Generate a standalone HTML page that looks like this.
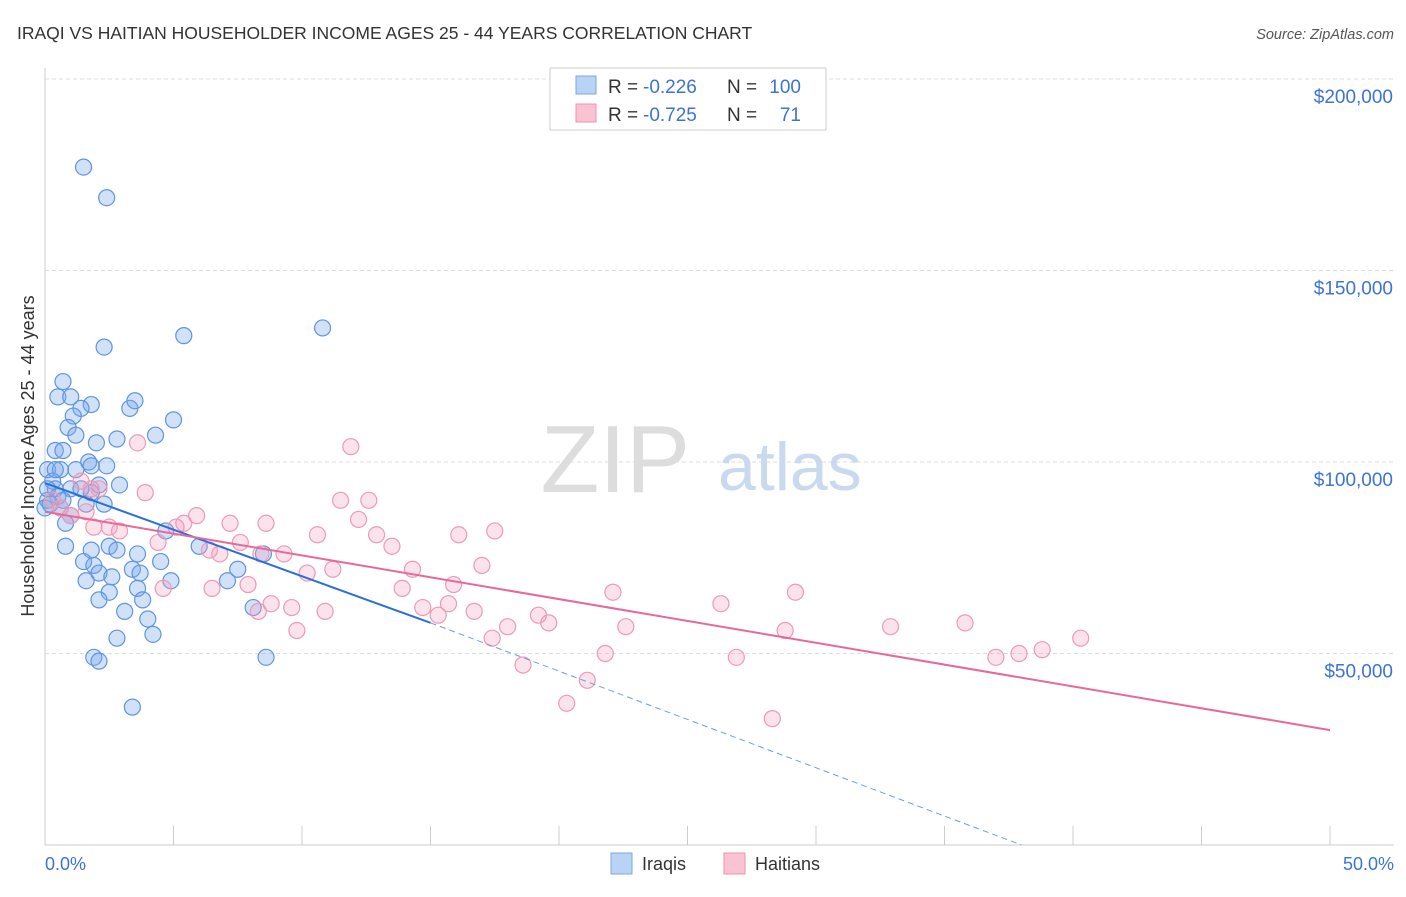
<!DOCTYPE html>
<html><head><meta charset="utf-8"><style>
body{margin:0;background:#fff;font-family:"Liberation Sans",sans-serif;}
svg text{font-family:"Liberation Sans",sans-serif;}
</style></head><body>
<svg id="c" width="1406" height="892">
<text x="17" y="39" font-size="17.5" fill="#333">IRAQI VS HAITIAN HOUSEHOLDER INCOME AGES 25 - 44 YEARS CORRELATION CHART</text>
<text x="1394" y="39" font-size="14.5" fill="#555" font-style="italic" text-anchor="end">Source: ZipAtlas.com</text>
<g id="grid"></g>
<text x="690" y="492" font-size="96" fill="#ddd" font-family="Liberation Serif" text-anchor="end">ZIP</text>
<text x="718" y="490" font-size="68" fill="#c9daf0">atlas</text>
<g id="pts"></g>
<g id="lines"></g>
<text transform="translate(34,456) rotate(-90)" font-size="18" fill="#333" text-anchor="middle">Householder Income Ages 25 - 44 years</text>
<text x="45" y="870" font-size="18" fill="#3b74d6">0.0%</text>
<text x="1394" y="870" font-size="18" fill="#3b74d6" text-anchor="end">50.0%</text>
<g>
<rect x="550" y="68" width="276" height="62" fill="#fff" stroke="#ccc"/>
<rect x="576" y="76" width="20" height="18" fill="#b9d3f5" stroke="#7aa7e6"/>
<rect x="576" y="104" width="20" height="18" fill="#f9c3d4" stroke="#ef93b1"/>
<text x="608" y="93" font-size="19" fill="#333">R =</text>
<text x="643" y="93" font-size="19" fill="#3b74d6">-0.226</text>
<text x="727" y="93" font-size="19" fill="#333">N =</text>
<text x="801" y="93" font-size="19" fill="#3b74d6" text-anchor="end">100</text>
<text x="608" y="121" font-size="19" fill="#333">R =</text>
<text x="643" y="121" font-size="19" fill="#3b74d6">-0.725</text>
<text x="727" y="121" font-size="19" fill="#333">N =</text>
<text x="801" y="121" font-size="19" fill="#3b74d6" text-anchor="end">71</text>
</g>
<g>
<rect x="611" y="853" width="21" height="21" fill="#b9d3f5" stroke="#7aa7e6"/>
<text x="642" y="870" font-size="18" fill="#333">Iraqis</text>
<rect x="724" y="853" width="21" height="21" fill="#f9c3d4" stroke="#ef93b1"/>
<text x="755" y="870" font-size="18" fill="#333">Haitians</text>
</g>
</svg>
<script>
const yTicks=[50,100,150,200];
const yTickLabels=["$50,000","$100,000","$150,000","$200,000"];
const xTicks=[0,5,10,15,20,25,30,35,40,45,50];
const iraqiX=[1.5,2.4,10.8,5.4,2.3,0.7,0.5,1.0,1.8,3.3,3.5,1.4,1.1,5.0,0.9,4.3,1.2,2.8,2.0,0.4,0.7,2.4,1.7,0.1,0.6,1.8,0.3,1.2,2.9,0.4,1.0,1.8,2.1,0.1,2.3,1.6,0.6,1.0,0.8,4.7,6.0,0.8,1.8,2.5,2.8,3.6,4.5,8.5,7.5,1.5,1.9,2.1,3.4,2.6,3.7,4.9,7.1,1.6,3.6,2.5,3.8,2.1,3.1,4.0,8.1,2.8,4.2,1.9,2.1,8.6,3.4,0.1,0.5,0.7,1.4,0.4,0.0,0.2];
const iraqiY=[177,169,135,133,130,121,117,117,115,114,116,114,112,111,109,107,107,106,105,103,103,99,100,98,98,99,95,98,94,93,93,92,94,90,89,89,88,86,84,82,78,78,77,78,77,76,74,76,72,74,73,71,72,70,71,69,69,69,67,66,64,64,61,59,62,54,55,49,48,49,36,93,91,90,93,98,88,89];
const haitiX=[11.9,3.6,3.9,2.1,11.5,12.6,12.2,17.5,16.1,5.9,7.2,8.6,5.4,5.1,2.5,2.9,1.9,12.9,13.5,10.6,7.6,4.4,6.4,9.3,8.4,6.8,14.3,17.0,11.2,10.2,15.9,13.9,7.9,4.6,6.5,29.2,22.1,26.3,8.8,9.6,10.9,8.3,15.7,14.7,16.7,15.3,19.2,19.6,18.0,22.6,32.9,35.8,28.8,9.8,17.4,40.3,38.8,37.9,37.0,26.9,21.8,18.6,21.1,20.3,28.3,0.6,0.3,1.0,1.6,1.8,1.4];
const haitiY=[104,105,92,93,90,90,85,82,81,86,84,84,84,83,83,82,83,81,78,81,79,79,77,76,76,76,72,73,72,71,68,67,68,67,67,66,66,63,63,62,61,61,63,62,61,60,60,58,57,57,57,58,56,56,54,54,51,50,49,49,50,47,43,37,33,88,90,86,87,93,95];
const blueLine=[0,94.5,15,58];
const blueDash=[15,58,38,0];
const pinkLine=[0,87,50,30];
const X=v=>45+v/50*1285, Y=v=>845-v*3.83;
const NS="http://www.w3.org/2000/svg";
function mk(tag,at,parent){const e=document.createElementNS(NS,tag);for(const k in at)e.setAttribute(k,at[k]);document.getElementById(parent).appendChild(e);return e;}
let ax=mk('line',{x1:45,y1:68,x2:45,y2:845,stroke:'#ccc'},'grid');


let bx=mk('line',{x1:45,y1:845,x2:1394,y2:845,stroke:'#ccc'},'grid');


yTicks.forEach((t,i)=>{
 let g=mk('line',{x1:45,y1:Y(t),x2:1394,y2:Y(t),stroke:'#ddd','stroke-dasharray':'4,3'},'grid');
 
 
 let l=mk('text',{x:1393,y:Y(t)+24,'font-size':19,fill:'#3b74d6','text-anchor':'end'},'grid');
 l.textContent=yTickLabels[i];
 
 
});
xTicks.forEach(t=>{
 let k=mk('line',{x1:X(t),y1:826,x2:X(t),y2:845,stroke:'#ccc'},'grid');
 
 
});
iraqiX.forEach((v,i)=>{
 let c=mk('circle',{cx:X(v),cy:Y(iraqiY[i]),r:8,fill:'rgba(120,170,235,0.35)',stroke:'#5f95e0','stroke-width':1.2},'pts');
 
 
});
haitiX.forEach((v,i)=>{
 let c=mk('circle',{cx:X(v),cy:Y(haitiY[i]),r:8,fill:'rgba(245,160,190,0.3)',stroke:'#ec9ab6','stroke-width':1.2},'pts');
 
 
});
let b=mk('line',{x1:X(blueLine[0]),y1:Y(blueLine[1]),x2:X(blueLine[2]),y2:Y(blueLine[3]),stroke:'#2a6fd8','stroke-width':2},'lines');


let bd=mk('line',{x1:X(blueDash[0]),y1:Y(blueDash[1]),x2:X(blueDash[2]),y2:Y(blueDash[3]),stroke:'#6d9ee6','stroke-width':1,'stroke-dasharray':'6,4'},'lines');


let p=mk('line',{x1:X(pinkLine[0]),y1:Y(pinkLine[1]),x2:X(pinkLine[2]),y2:Y(pinkLine[3]),stroke:'#e8689a','stroke-width':2},'lines');


</script>
</body></html>
